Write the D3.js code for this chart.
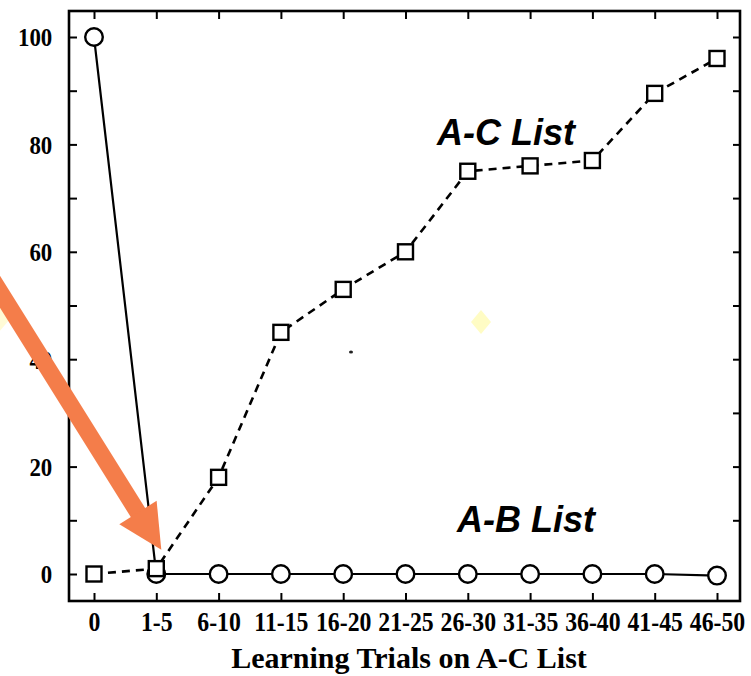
<!DOCTYPE html>
<html>
<head>
<meta charset="utf-8">
<script src="https://cdn.jsdelivr.net/npm/d3@7"></script>
<style>
  html, body { margin: 0; padding: 0; background: #fff; }
  svg { display: block; }
</style>
</head>
<body>
<svg id="chart" width="751" height="676"></svg>
<script>
// ---- data ----
const categories = ["0", "1-5", "6-10", "11-15", "16-20", "21-25", "26-30", "31-35", "36-40", "41-45", "46-50"];
const acValues = [0, 1, 18, 45, 53, 60, 75, 76, 77, 89.5, 96];   // A-C List (squares, dashed)
const abValues = [100, 0, 0, 0, 0, 0, 0, 0, 0, 0, -0.3];          // A-B List (circles, solid)
const yTicks = [0, 10, 20, 30, 40, 50, 60, 70, 80, 90, 100];
const yLabelTicks = [0, 20, 40, 60, 80, 100];
const xTitle = "Learning Trials on A-C List";
const seriesLabels = ["A-C List", "A-B List"];

// ---- layout ----
const frame = { left: 69, top: 11, right: 740, bottom: 601 };
const svg = d3.select("#chart");

const x = d3.scalePoint().domain(categories).range([94, 717]);
const y = d3.scaleLinear().domain([0, 100]).range([574, 37]);

const serif = "'Liberation Serif', 'Times New Roman', serif";
const sans = "'Liberation Sans', Arial, sans-serif";

// faint scan artifacts
svg.append("path")
  .attr("d", "M481,310 L491,322 L481,334 L471,322 Z")
  .attr("fill", "#fffcc4");
svg.append("path")
  .attr("d", "M-2,305 L10,319 L-2,333 Z")
  .attr("fill", "#fffbd6");
svg.append("ellipse").attr("cx", 351).attr("cy", 352).attr("rx", 2).attr("ry", 1.5).attr("fill", "#222");

// frame
svg.append("rect")
  .attr("x", frame.left).attr("y", frame.top)
  .attr("width", frame.right - frame.left).attr("height", frame.bottom - frame.top)
  .attr("fill", "none").attr("stroke", "#000").attr("stroke-width", 2.6);

function styleAxis(g, size) {
  g.select(".domain").remove();
  g.selectAll(".tick line").attr("stroke", "#000").attr("stroke-width", 2);
  g.selectAll(".tick text")
    .attr("fill", "#000")
    .style("font-family", serif)
    .style("font-weight", "bold")
    .style("font-size", (size || 24) + "px");
}

// left axis
svg.append("g")
  .attr("transform", `translate(${frame.left},0)`)
  .call(d3.axisLeft(y).tickValues(yTicks).tickSize(-8).tickPadding(19)
    .tickFormat(d => yLabelTicks.includes(d) ? d : ""))
  .call(g => styleAxis(g, 26))
  .call(g => g.selectAll(".tick text").attr("dy", "0.34em").attr("transform", "scale(0.88,1)"));

// right axis (ticks only)
svg.append("g")
  .attr("transform", `translate(${frame.right},0)`)
  .call(d3.axisRight(y).tickValues(yTicks.slice(1)).tickSize(-7).tickFormat(""))
  .call(g => styleAxis(g));

// bottom axis
svg.append("g")
  .attr("transform", `translate(0,${frame.bottom})`)
  .call(d3.axisBottom(x).tickSize(-8).tickPadding(11))
  .call(g => styleAxis(g, 27))
  .call(g => g.selectAll(".tick text").attr("dy", "0.71em").attr("transform", "scale(0.88,1)"));

// top axis (ticks only)
svg.append("g")
  .attr("transform", `translate(0,${frame.top})`)
  .call(d3.axisTop(x).tickSize(-8).tickFormat(""))
  .call(g => styleAxis(g));

// x-axis title
svg.append("text")
  .attr("x", 409).attr("y", 668)
  .attr("text-anchor", "middle")
  .style("font-family", serif).style("font-weight", "bold").style("font-size", "30px")
  .text(xTitle);

// lines
const line = d3.line().x((d, i) => x(categories[i])).y(d => y(d));

svg.append("path")
  .datum(abValues)
  .attr("d", line)
  .attr("fill", "none").attr("stroke", "#000").attr("stroke-width", 2.2);

svg.append("path")
  .datum(acValues)
  .attr("d", line)
  .attr("fill", "none").attr("stroke", "#000").attr("stroke-width", 2.6)
  .attr("stroke-dasharray", "8,6");

// markers
svg.append("g").selectAll("circle")
  .data(abValues)
  .join("circle")
  .attr("cx", (d, i) => x(categories[i]))
  .attr("cy", d => y(d))
  .attr("r", 8.8)
  .attr("fill", "#fff").attr("stroke", "#000").attr("stroke-width", 2.4);

const sq = 15;
svg.append("g").selectAll("rect")
  .data(acValues)
  .join("rect")
  .attr("x", (d, i) => x(categories[i]) - sq / 2)
  .attr("y", d => y(d) - sq / 2)
  .attr("width", sq).attr("height", sq)
  .attr("fill", "#fff").attr("stroke", "#000").attr("stroke-width", 2.4);

// series labels
svg.append("text")
  .attr("x", 437).attr("y", 145)
  .style("font-family", sans).style("font-weight", "bold").style("font-style", "italic").style("font-size", "36px")
  .text(seriesLabels[0]);
svg.append("text")
  .attr("x", 457).attr("y", 532)
  .style("font-family", sans).style("font-weight", "bold").style("font-style", "italic").style("font-size", "36px")
  .text(seriesLabels[1]);

// orange annotation arrow pointing at the 1-5 point
const tipX = x("1-5") + 5, tipY = y(4.5);
const dirX = 0.53, dirY = 0.848;          // unit direction of the arrow
const headLen = 44, headHalf = 22, shaftW = 17;
const baseX = tipX - dirX * headLen, baseY = tipY - dirY * headLen;
const nx = -dirY, ny = dirX;
const tailX = baseX - dirX * 330, tailY = baseY - dirY * 330;
svg.append("line")
  .attr("x1", tailX).attr("y1", tailY)
  .attr("x2", baseX + dirX * 2).attr("y2", baseY + dirY * 2)
  .attr("stroke", "#f47d4a").attr("stroke-width", shaftW);
svg.append("path")
  .attr("d", `M${tipX},${tipY} L${baseX + nx * headHalf},${baseY + ny * headHalf} L${baseX - nx * headHalf},${baseY - ny * headHalf} Z`)
  .attr("fill", "#f47d4a");
</script>
</body>
</html>
